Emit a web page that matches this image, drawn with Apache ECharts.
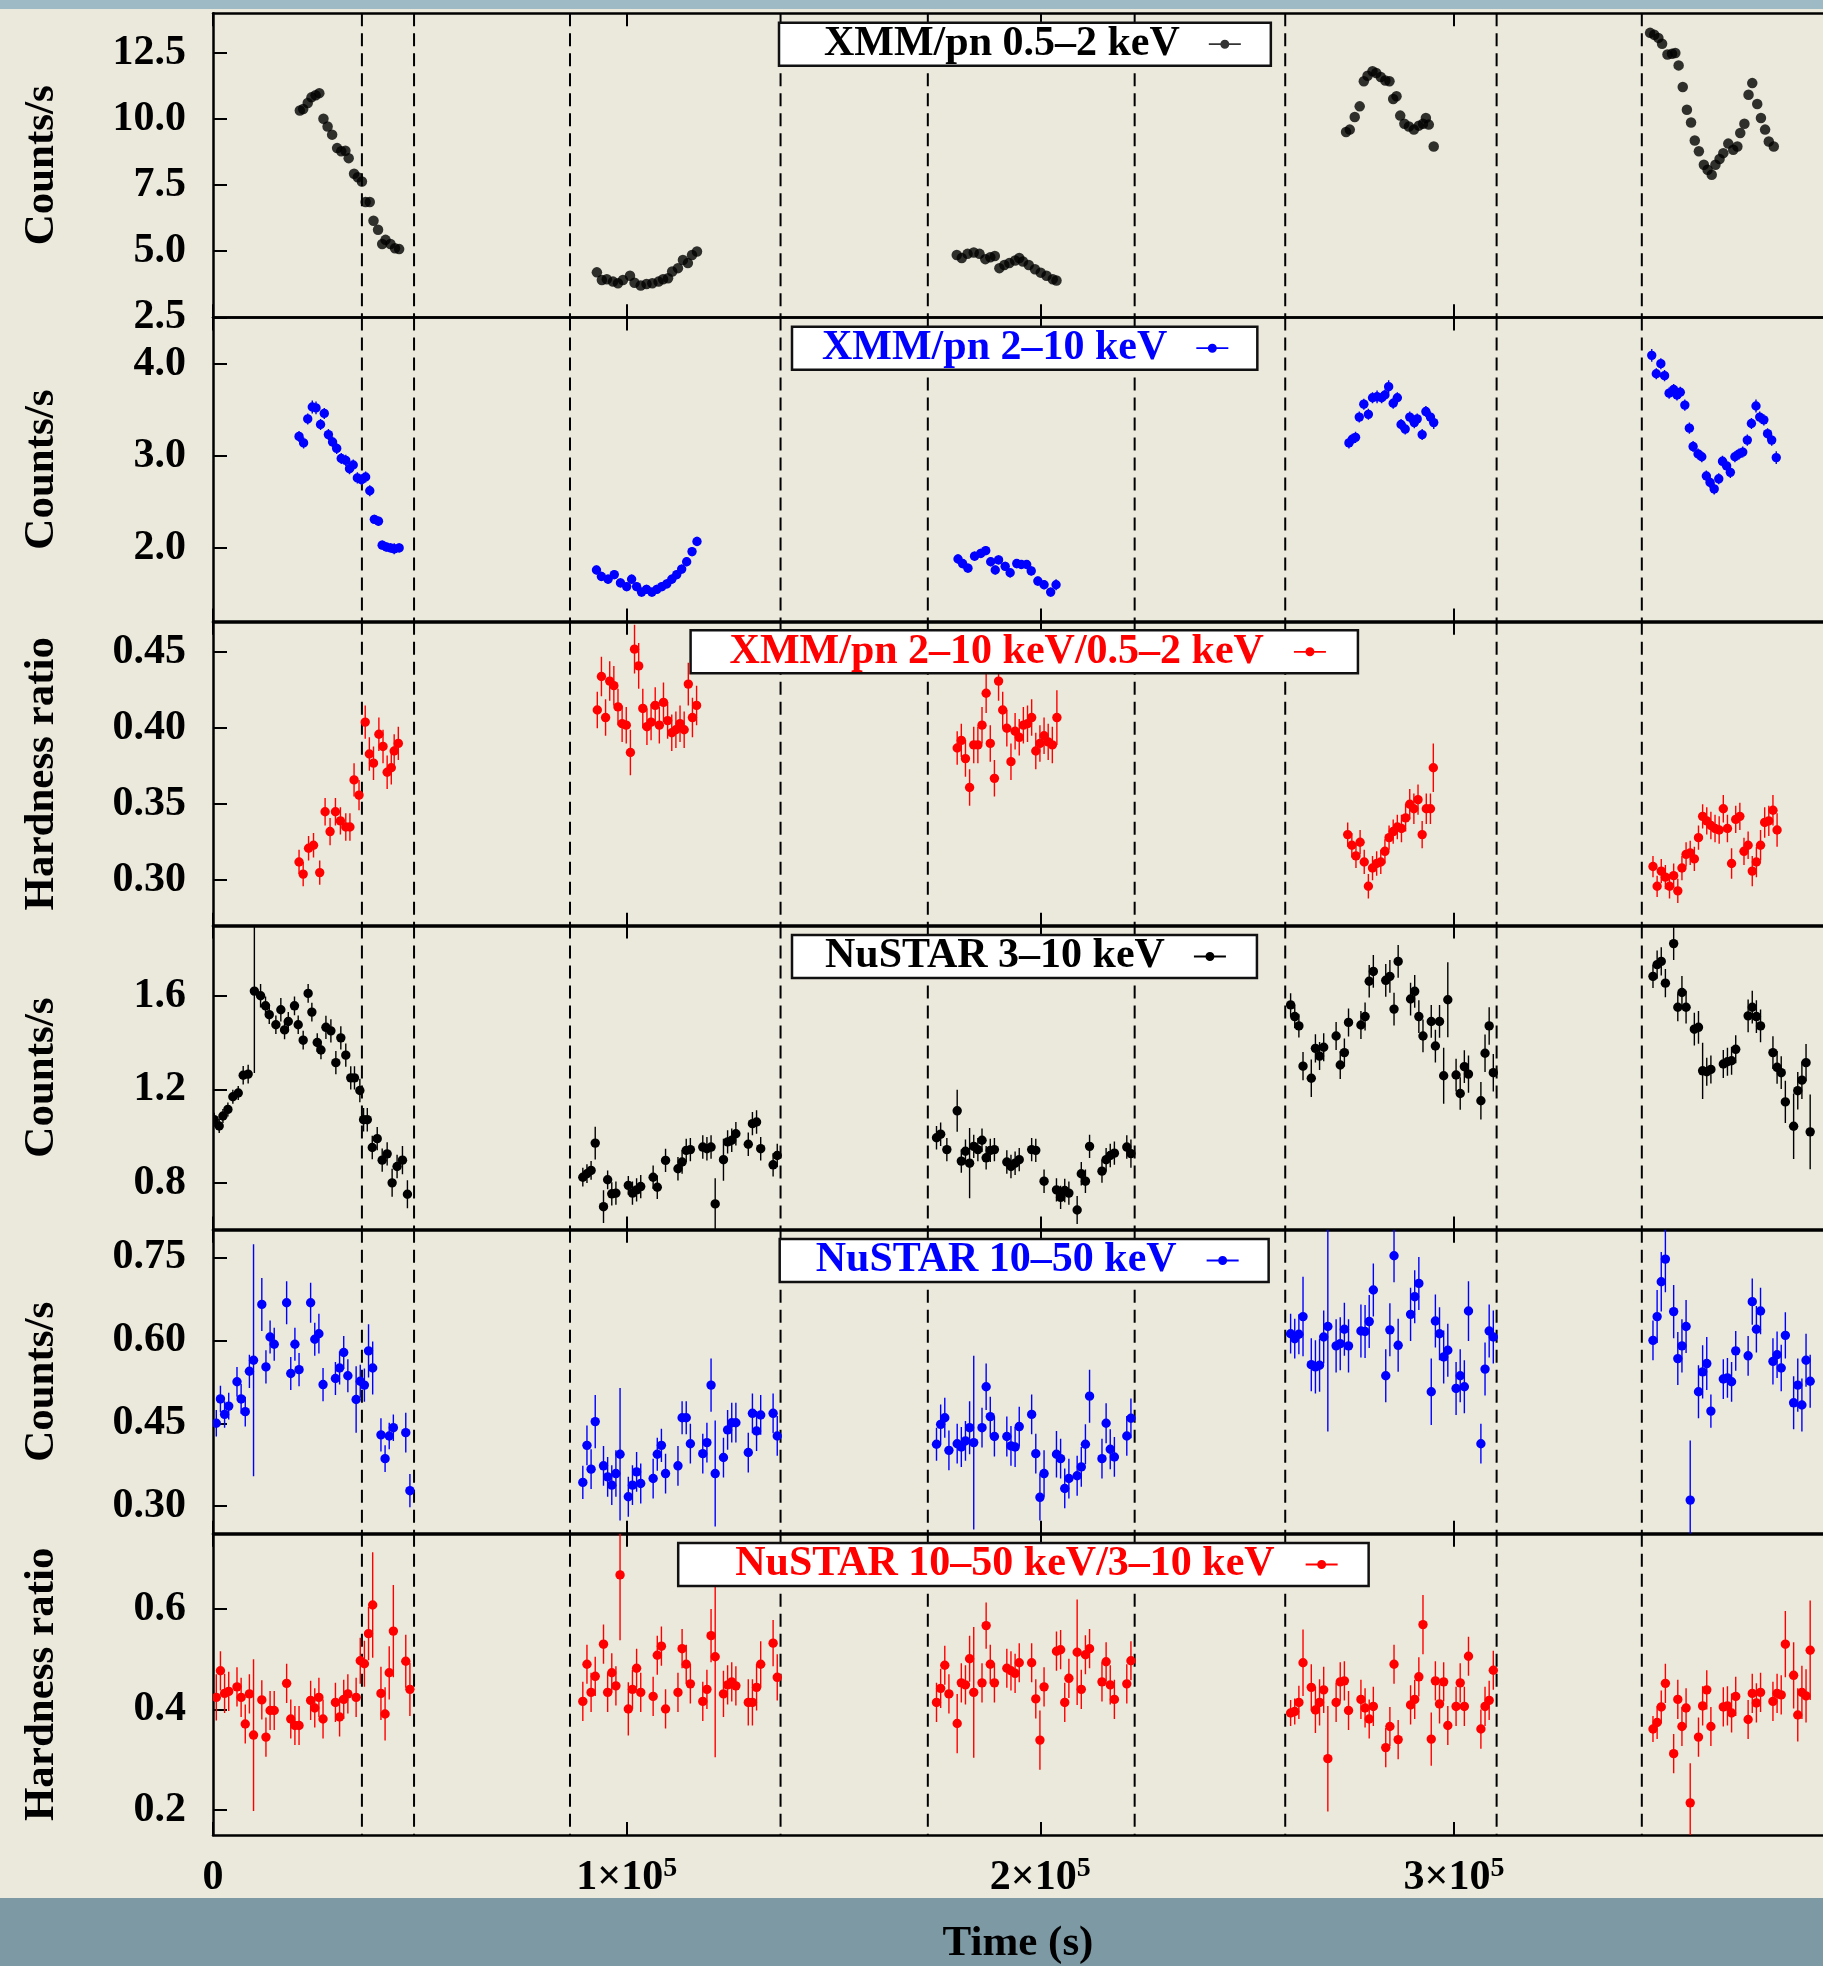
<!DOCTYPE html>
<html>
<head>
<meta charset="utf-8">
<title>XMM/pn and NuSTAR light curves</title>
<script src="https://cdn.jsdelivr.net/npm/echarts@6/dist/echarts.min.js"></script>
<style>
  html, body { margin: 0; padding: 0; }
  #lc {
    width: 1823px;
    height: 1966px;
    background: linear-gradient(to bottom, #9dbac5 0px, #9dbac5 9px, #ebe9dc 9px, #ebe9dc 1898px, #7c99a4 1898px, #7c99a4 1966px);
  }
</style>
</head>
<body>
<div id="lc"></div>
<script>
// ---- data (time in s) ----
const timeTicks = [0, 100000, 200000, 300000];
const dashX = [36000, 48600, 86300, 137200, 172800, 222800, 259200, 310300, 345400];

// XMM/pn 0.5-2 keV (counts/s)
const xmmSoftT = [
  21000, 21800, 22900, 23800, 24800, 25700, 26700, 27700, 28800, 30000, 31000, 32000, 32800, 34100, 35000, 36000, 36900, 37900, 38800, 39900, 40900, 41700, 42900, 44000, 45000,
  92800, 94000, 95200, 96700, 97900, 99100, 100800, 101900, 103400, 104800, 106200, 107700, 108800, 110000, 111000, 112400, 113600, 114800, 115800, 117000,
  179800, 181000, 182400, 183900, 185300, 186700, 187900, 189000, 190100, 191300, 192500, 193900, 194900, 195800, 197200, 198700, 200100, 201500, 203000, 203900,
  273900, 274800, 276000, 277200, 278200, 279100, 280300, 281200, 282300, 283400, 284400, 285300, 286100, 287000, 288000, 289100, 290300, 291500, 292500, 293200, 293900, 295100,
  347400, 348400, 349400, 350300, 351600, 352700, 353500, 354300, 355300, 356300, 357300, 358200, 359200, 360400, 361300, 362300, 363200, 364200, 365100, 366300, 367500, 368500, 369200, 370200, 371200, 372100, 373300, 374200, 375200, 376100, 377300
];
const xmmSoftV = [
  10.32, 10.38, 10.61, 10.82, 10.90, 10.98, 10.01, 9.72, 9.41, 8.90, 8.78, 8.80, 8.52, 7.93, 7.80, 7.64, 6.86, 6.86, 6.15, 5.81, 5.27, 5.43, 5.27, 5.11, 5.08,
  4.20, 3.91, 3.94, 3.85, 3.79, 3.91, 4.07, 3.81, 3.70, 3.76, 3.79, 3.85, 3.94, 3.98, 4.23, 4.36, 4.67, 4.55, 4.86, 4.99,
  4.86, 4.74, 4.90, 4.95, 4.90, 4.70, 4.77, 4.82, 4.36, 4.48, 4.55, 4.65, 4.74, 4.61, 4.48, 4.32, 4.19, 4.07, 3.94, 3.89,
  9.51, 9.60, 10.08, 10.48, 11.43, 11.64, 11.81, 11.74, 11.59, 11.46, 11.43, 10.76, 10.86, 10.13, 9.82, 9.72, 9.60, 9.75, 9.82, 10.04, 9.79, 8.96,
  13.26, 13.19, 13.07, 12.85, 12.44, 12.47, 12.50, 12.03, 11.21, 10.35, 9.87, 9.19, 8.78, 8.27, 8.08, 7.89, 8.27, 8.49, 8.71, 9.07, 8.84, 8.96, 9.47, 9.82, 10.92, 11.36, 10.57, 10.04, 9.60, 9.15, 8.96
];
const xmmSoftTicks = [2.5, 5.0, 7.5, 10.0, 12.5];

// XMM/pn 2-10 keV (counts/s)
const xmmHardT = [
  20800, 21900, 22900, 24000, 24900, 26000, 26900, 27900, 28900, 29900, 31000, 32100, 33000, 33900, 34900, 35900, 36900, 37900, 39000, 40000, 40900, 41900, 42900, 43800, 45000,
  92700, 93900, 95500, 97000, 98500, 100000, 101200, 102400, 103600, 104800, 106100, 107300, 108500, 109700, 110900, 112100, 113300, 114500, 115800, 117000,
  180100, 181200, 182500, 184100, 185600, 186800, 188000, 189100, 189900, 191500, 192700, 194300, 195400, 196700, 197800, 199400, 200900, 202500, 203800,
  274600, 275400, 276200, 277100, 278200, 279300, 280300, 281400, 282500, 283300, 284200, 285300, 286300, 287200, 288200, 289300, 290400, 291100, 292300, 293200, 294300, 295100,
  347800, 348900, 350000, 350900, 352000, 353100, 353900, 354700, 355800, 356900, 357800, 359000, 359900, 361000, 361900, 362900, 364000, 364900, 365900, 366800, 367900, 368900, 369800, 370900, 371900, 373000, 373900, 374900, 375800, 376800, 377900
];
const xmmHardV = [
  3.21, 3.14, 3.40, 3.53, 3.52, 3.34, 3.46, 3.23, 3.15, 3.08, 2.97, 2.95, 2.86, 2.90, 2.76, 2.74, 2.77, 2.62, 2.31, 2.29, 2.03, 2.01, 2.00, 1.99, 2.00,
  1.76, 1.69, 1.66, 1.71, 1.62, 1.58, 1.66, 1.58, 1.52, 1.55, 1.52, 1.55, 1.58, 1.61, 1.66, 1.71, 1.77, 1.85, 1.96, 2.07,
  1.88, 1.83, 1.78, 1.91, 1.94, 1.97, 1.85, 1.76, 1.87, 1.80, 1.73, 1.83, 1.82, 1.82, 1.75, 1.64, 1.60, 1.52, 1.60,
  3.14, 3.18, 3.20, 3.42, 3.56, 3.45, 3.63, 3.64, 3.63, 3.66, 3.75, 3.57, 3.63, 3.34, 3.29, 3.42, 3.36, 3.40, 3.23, 3.48, 3.42, 3.36,
  4.09, 3.89, 4.00, 3.87, 3.68, 3.72, 3.66, 3.69, 3.55, 3.30, 3.10, 3.02, 2.99, 2.78, 2.71, 2.64, 2.75, 2.94, 2.89, 2.82, 2.99, 3.02, 3.04, 3.17, 3.35, 3.54, 3.42, 3.39, 3.24, 3.17, 2.98
];
const xmmHardE = [
  0.06, 0.06, 0.06, 0.07, 0.07, 0.06, 0.06, 0.06, 0.06, 0.06, 0.06, 0.06, 0.06, 0.06, 0.06, 0.06, 0.06, 0.06, 0.05, 0.05, 0.05, 0.05, 0.05, 0.06, 0.05,
  0.05, 0.05, 0.05, 0.05, 0.05, 0.05, 0.05, 0.05, 0.05, 0.05, 0.05, 0.05, 0.05, 0.05, 0.05, 0.05, 0.05, 0.05, 0.05, 0.05,
  0.05, 0.05, 0.05, 0.05, 0.05, 0.05, 0.05, 0.05, 0.05, 0.05, 0.05, 0.05, 0.05, 0.05, 0.05, 0.05, 0.05, 0.05, 0.06,
  0.06, 0.06, 0.06, 0.06, 0.06, 0.06, 0.06, 0.07, 0.06, 0.06, 0.07, 0.06, 0.06, 0.06, 0.06, 0.06, 0.06, 0.06, 0.06, 0.06, 0.06, 0.07,
  0.07, 0.06, 0.06, 0.06, 0.06, 0.06, 0.06, 0.06, 0.06, 0.06, 0.06, 0.06, 0.06, 0.06, 0.06, 0.06, 0.06, 0.06, 0.06, 0.06, 0.06, 0.06, 0.06, 0.06, 0.06, 0.07, 0.06, 0.06, 0.06, 0.06, 0.07
];
const xmmHardTicks = [2.0, 3.0, 4.0];

// XMM/pn hardness ratio 2-10 keV / 0.5-2 keV
const xmmRatioT = [
  20800, 21800, 23100, 24300, 25800, 27100, 28300, 29600, 30800, 32100, 33100, 34100, 35300, 36800, 37800, 38800, 40100, 41100, 42100, 43100, 43800, 44800,
  92900, 93900, 94900, 95900, 96900, 97900, 98900, 99900, 100900, 101900, 102900, 103900, 104900, 105900, 106900, 107900, 108900, 109900, 110900, 111900, 112900, 113900, 114900, 115900, 116900,
  179900, 180900, 181900, 182900, 183900, 184900, 185900, 186900, 187900, 188900, 189900, 190900, 191900, 192900, 193900, 194900, 195900, 196900, 197900, 198900, 199900, 200900, 201900, 202900, 204000,
  274300, 275300, 276300, 277300, 278300, 279300, 280300, 281300, 282300, 283300, 284300, 285300, 286300, 287300, 288300, 289300, 290300, 291300, 292300, 293300, 294300, 295000,
  348100, 349100, 350100, 351100, 352100, 353100, 354100, 355100, 356100, 357100, 358100, 359100, 360100, 361100, 362100, 363100, 364100, 365100, 366100, 367100, 368100, 369100, 370100, 371100, 372100, 373100, 374100, 375100, 376100, 377100, 378100
];
const xmmRatioV = [
  0.312, 0.304, 0.321, 0.323, 0.305, 0.345, 0.332, 0.345, 0.339, 0.335, 0.335, 0.366, 0.356, 0.404, 0.383, 0.377, 0.396, 0.388, 0.371, 0.374, 0.385, 0.390,
  0.412, 0.434, 0.407, 0.431, 0.428, 0.414, 0.403, 0.402, 0.384, 0.452, 0.441, 0.413, 0.401, 0.404, 0.415, 0.402, 0.417, 0.405, 0.397, 0.399, 0.403, 0.399, 0.429, 0.407, 0.415,
  0.387, 0.392, 0.380, 0.361, 0.389, 0.389, 0.402, 0.423, 0.390, 0.367, 0.431, 0.412, 0.400, 0.378, 0.398, 0.394, 0.402, 0.403, 0.407, 0.385, 0.390, 0.395, 0.391, 0.389, 0.407,
  0.330, 0.323, 0.316, 0.325, 0.312, 0.296, 0.308, 0.311, 0.312, 0.319, 0.328, 0.332, 0.335, 0.334, 0.341, 0.350, 0.347, 0.353, 0.330, 0.347, 0.347, 0.374,
  0.309, 0.296, 0.306, 0.302, 0.296, 0.303, 0.293, 0.308, 0.317, 0.318, 0.314, 0.328, 0.342, 0.339, 0.336, 0.334, 0.333, 0.347, 0.334, 0.311, 0.340, 0.342, 0.319, 0.323, 0.306, 0.312, 0.323, 0.338, 0.339, 0.346, 0.333
];
const xmmRatioE = [
  0.008, 0.008, 0.008, 0.008, 0.008, 0.009, 0.009, 0.009, 0.009, 0.009, 0.009, 0.011, 0.010, 0.011, 0.011, 0.011, 0.011, 0.011, 0.011, 0.011, 0.011, 0.011,
  0.012, 0.013, 0.012, 0.013, 0.013, 0.012, 0.012, 0.012, 0.015, 0.016, 0.015, 0.013, 0.012, 0.012, 0.012, 0.012, 0.013, 0.012, 0.012, 0.012, 0.012, 0.012, 0.014, 0.013, 0.013,
  0.011, 0.011, 0.012, 0.012, 0.012, 0.012, 0.012, 0.013, 0.012, 0.012, 0.013, 0.012, 0.012, 0.012, 0.012, 0.012, 0.012, 0.012, 0.012, 0.012, 0.012, 0.012, 0.012, 0.012, 0.018,
  0.008, 0.008, 0.008, 0.008, 0.008, 0.008, 0.008, 0.008, 0.008, 0.008, 0.008, 0.008, 0.008, 0.009, 0.009, 0.010, 0.010, 0.010, 0.009, 0.010, 0.010, 0.016,
  0.007, 0.007, 0.008, 0.008, 0.008, 0.008, 0.008, 0.008, 0.008, 0.008, 0.008, 0.008, 0.008, 0.009, 0.009, 0.009, 0.009, 0.009, 0.009, 0.010, 0.009, 0.009, 0.009, 0.009, 0.010, 0.010, 0.010, 0.010, 0.010, 0.010, 0.011
];
const xmmRatioTicks = [0.30, 0.35, 0.40, 0.45];

// NuSTAR 3-10 keV (counts/s)
const nuSoftT = [
  300, 1500, 2400, 3600, 4800, 6100, 7300, 8500, 10000, 11500, 12700, 13600, 15200, 16400, 17300, 18200, 19700, 20600, 21800, 23000, 23900, 25200, 26100, 27300, 28500, 29700, 30900, 32100, 33300, 34200, 35500, 36400, 37300, 38500, 39700, 40900, 42100, 43300, 44500, 45800, 47000,
  89400, 90400, 91400, 92400, 94400, 95400, 96400, 97400, 100400, 101400, 102400, 103400, 106400, 107400, 109400, 112400, 113400, 114400, 115400, 118400, 119400, 120400, 121400, 123400, 124400, 125400, 126400, 129400, 130400, 131400, 132400, 135400, 136400,
  174900, 175900, 177400, 179900, 180900, 181900, 182900, 183900, 184900, 185900, 186900, 187900, 188900, 191900, 192900, 193900, 194900, 197900, 198900, 200900, 203900, 204900, 205900, 206900, 208900, 209900, 210900, 211900, 214900, 215900, 216900, 217900, 220900, 221900,
  260500, 261500, 262500, 263500, 265500, 266500, 267500, 268500, 271500, 272500, 273500, 274500, 277500, 278500, 279500, 280500, 283500, 284500, 285500, 286500, 289500, 290500, 291500, 292500, 294500, 295500, 296500, 297500, 298500, 300500, 301500, 302500, 303500, 306500, 307500, 308500, 309500,
  348100, 349100, 350100, 351100, 353100, 354100, 355100, 356100, 358100, 359100, 360100, 361100, 362100, 365100, 366100, 367100, 368100, 371100, 372100, 373100, 374100, 377100, 378100, 379100, 380100, 382100, 383100, 384100, 385100, 386100
];
const nuSoftV = [
  1.07, 1.043, 1.086, 1.114, 1.168, 1.184, 1.26, 1.265, 1.62, 1.60, 1.557, 1.519, 1.476, 1.54, 1.454, 1.49, 1.557, 1.476, 1.41, 1.61, 1.53, 1.40, 1.368, 1.465, 1.45, 1.314, 1.42, 1.346, 1.249, 1.249, 1.195, 1.07, 1.07, 0.951, 0.989, 0.897, 0.924, 0.80, 0.87, 0.897, 0.751,
  0.824, 0.839, 0.853, 0.970, 0.698, 0.813, 0.753, 0.756, 0.789, 0.756, 0.770, 0.784, 0.824, 0.781, 0.896, 0.860, 0.889, 0.939, 0.942, 0.953, 0.946, 0.953, 0.710, 0.899, 0.975, 0.982, 1.010, 0.965, 1.053, 1.060, 0.946, 0.877, 0.917,
  0.993, 1.008, 0.942, 1.108, 0.893, 0.935, 0.884, 0.956, 0.942, 0.982, 0.907, 0.939, 0.942, 0.889, 0.870, 0.884, 0.899, 0.942, 0.939, 0.807, 0.770, 0.738, 0.767, 0.756, 0.684, 0.839, 0.807, 0.956, 0.850, 0.899, 0.917, 0.927, 0.953, 0.925,
  1.561, 1.511, 1.471, 1.299, 1.247, 1.375, 1.342, 1.380, 1.428, 1.304, 1.357, 1.486, 1.475, 1.511, 1.662, 1.704, 1.666, 1.683, 1.543, 1.747, 1.586, 1.619, 1.511, 1.428, 1.490, 1.385, 1.490, 1.258, 1.583, 1.261, 1.182, 1.297, 1.265, 1.151, 1.354, 1.471, 1.271,
  1.683, 1.733, 1.747, 1.654, 1.823, 1.551, 1.614, 1.551, 1.457, 1.465, 1.279, 1.275, 1.285, 1.308, 1.318, 1.322, 1.371, 1.514, 1.551, 1.511, 1.471, 1.357, 1.294, 1.271, 1.146, 1.042, 1.194, 1.239, 1.314, 1.018
];
const nuSoftE = [
  0.03, 0.03, 0.03, 0.03, 0.03, 0.03, 0.04, 0.04, 0.35, 0.05, 0.04, 0.04, 0.04, 0.05, 0.04, 0.04, 0.04, 0.04, 0.04, 0.04, 0.04, 0.04, 0.04, 0.05, 0.05, 0.05, 0.05, 0.05, 0.05, 0.05, 0.05, 0.05, 0.05, 0.05, 0.05, 0.05, 0.05, 0.06, 0.05, 0.06, 0.06,
  0.04, 0.04, 0.04, 0.07, 0.07, 0.04, 0.05, 0.05, 0.04, 0.05, 0.05, 0.05, 0.05, 0.05, 0.05, 0.05, 0.05, 0.05, 0.05, 0.05, 0.05, 0.05, 0.11, 0.09, 0.05, 0.05, 0.05, 0.05, 0.05, 0.05, 0.05, 0.05, 0.05,
  0.05, 0.05, 0.05, 0.09, 0.05, 0.05, 0.15, 0.05, 0.05, 0.05, 0.05, 0.05, 0.05, 0.05, 0.05, 0.05, 0.05, 0.05, 0.05, 0.05, 0.05, 0.05, 0.05, 0.05, 0.06, 0.05, 0.05, 0.05, 0.05, 0.05, 0.05, 0.05, 0.05, 0.06,
  0.05, 0.05, 0.05, 0.06, 0.08, 0.06, 0.06, 0.06, 0.06, 0.06, 0.06, 0.06, 0.06, 0.06, 0.07, 0.07, 0.07, 0.07, 0.07, 0.07, 0.07, 0.07, 0.07, 0.07, 0.07, 0.07, 0.07, 0.12, 0.16, 0.07, 0.07, 0.07, 0.08, 0.08, 0.08, 0.08, 0.08,
  0.05, 0.06, 0.06, 0.06, 0.07, 0.06, 0.07, 0.07, 0.07, 0.07, 0.12, 0.06, 0.06, 0.06, 0.06, 0.06, 0.06, 0.07, 0.07, 0.07, 0.07, 0.07, 0.07, 0.07, 0.09, 0.14, 0.08, 0.08, 0.08, 0.16
];
const nuSoftTicks = [0.8, 1.2, 1.6];

// NuSTAR 10-50 keV (counts/s)
const nuHardT = [
  800, 1800, 2800, 3800, 5800, 6800, 7800, 8800, 9800, 11800, 12800, 13800, 14800, 17800, 18800, 19800, 20800, 23600, 24600, 25600, 26600, 29600, 30600, 31600, 32600, 34600, 35600, 36600, 37600, 38600, 40600, 41600, 42600, 43600, 46600, 47600,
  89400, 90400, 91400, 92400, 94400, 95400, 96400, 97400, 98400, 100400, 101400, 102400, 103400, 106400, 107400, 108400, 109400, 112400, 113400, 114400, 115400, 118400, 119400, 120400, 121400, 123400, 124400, 125400, 126400, 129400, 130400, 131400, 132400, 135400, 136400,
  174900, 175900, 176900, 177900, 179900, 180900, 181900, 182900, 183900, 185900, 186900, 187900, 188900, 191900, 192900, 193900, 194900, 197900, 198900, 199900, 200900, 203900, 204900, 205900, 206900, 208900, 209900, 210900, 211900, 214900, 215900, 216900, 217900, 220900, 221900,
  260500, 261500, 262500, 263500, 265500, 266500, 267500, 268500, 269500, 271500, 272500, 273500, 274500, 277500, 278500, 279500, 280500, 283500, 284500, 285500, 286500, 289500, 290500, 291500, 294500, 295500, 296500, 297500, 298500, 300500, 301500, 302500, 303500, 306500, 307500, 308500, 309500,
  348100, 349100, 350100, 351100, 353100, 354100, 355100, 356100, 357100, 359100, 360100, 361100, 362100, 365100, 366100, 367100, 368100, 371100, 372100, 373100, 374100, 377100, 378100, 379100, 380100, 382100, 383100, 384100, 385100, 386100
];
const nuHardV = [
  0.450, 0.494, 0.466, 0.481, 0.525, 0.494, 0.471, 0.544, 0.564, 0.665, 0.552, 0.606, 0.593, 0.668, 0.540, 0.593, 0.547, 0.668, 0.602, 0.612, 0.520, 0.531, 0.550, 0.578, 0.536, 0.493, 0.526, 0.519, 0.581, 0.550, 0.429, 0.386, 0.427, 0.442, 0.433, 0.328,
  0.343, 0.410, 0.367, 0.453, 0.373, 0.353, 0.338, 0.359, 0.394, 0.317, 0.338, 0.362, 0.341, 0.350, 0.394, 0.410, 0.359, 0.373, 0.460, 0.460, 0.413, 0.395, 0.415, 0.519, 0.359, 0.388, 0.438, 0.451, 0.451, 0.397, 0.468, 0.436, 0.465, 0.468, 0.427,
  0.412, 0.448, 0.460, 0.401, 0.413, 0.407, 0.418, 0.442, 0.415, 0.442, 0.516, 0.462, 0.426, 0.426, 0.409, 0.407, 0.444, 0.466, 0.395, 0.316, 0.359, 0.394, 0.386, 0.332, 0.350, 0.355, 0.371, 0.412, 0.499, 0.386, 0.450, 0.403, 0.389, 0.427, 0.459,
  0.612, 0.603, 0.611, 0.643, 0.556, 0.552, 0.555, 0.606, 0.625, 0.590, 0.594, 0.620, 0.590, 0.617, 0.616, 0.634, 0.691, 0.536, 0.619, 0.753, 0.591, 0.647, 0.679, 0.703, 0.507, 0.635, 0.612, 0.570, 0.582, 0.513, 0.536, 0.516, 0.653, 0.413, 0.548, 0.617, 0.606,
  0.600, 0.643, 0.706, 0.747, 0.652, 0.567, 0.590, 0.625, 0.311, 0.507, 0.543, 0.558, 0.472, 0.530, 0.532, 0.525, 0.581, 0.572, 0.670, 0.620, 0.653, 0.562, 0.574, 0.550, 0.609, 0.487, 0.519, 0.483, 0.564, 0.526
];
const nuHardE = [
  0.024, 0.024, 0.024, 0.024, 0.027, 0.027, 0.027, 0.030, 0.21, 0.048, 0.030, 0.030, 0.030, 0.039, 0.030, 0.030, 0.030, 0.036, 0.030, 0.036, 0.030, 0.030, 0.030, 0.030, 0.030, 0.06, 0.030, 0.030, 0.048, 0.048, 0.030, 0.024, 0.024, 0.024, 0.036, 0.030,
  0.030, 0.036, 0.036, 0.048, 0.036, 0.036, 0.036, 0.042, 0.12, 0.036, 0.036, 0.036, 0.036, 0.036, 0.030, 0.030, 0.036, 0.036, 0.030, 0.030, 0.036, 0.036, 0.036, 0.048, 0.096, 0.036, 0.036, 0.036, 0.036, 0.036, 0.036, 0.036, 0.036, 0.036, 0.036,
  0.030, 0.036, 0.036, 0.036, 0.036, 0.036, 0.036, 0.048, 0.157, 0.036, 0.042, 0.036, 0.036, 0.036, 0.036, 0.036, 0.036, 0.036, 0.036, 0.042, 0.042, 0.042, 0.036, 0.036, 0.036, 0.036, 0.036, 0.036, 0.048, 0.036, 0.036, 0.036, 0.036, 0.036, 0.036,
  0.036, 0.036, 0.036, 0.072, 0.048, 0.048, 0.048, 0.048, 0.19, 0.048, 0.048, 0.048, 0.048, 0.048, 0.048, 0.048, 0.048, 0.048, 0.048, 0.048, 0.048, 0.048, 0.048, 0.048, 0.06, 0.048, 0.048, 0.048, 0.048, 0.048, 0.048, 0.048, 0.054, 0.036, 0.048, 0.048, 0.048,
  0.036, 0.048, 0.054, 0.06, 0.048, 0.048, 0.048, 0.048, 0.108, 0.048, 0.048, 0.048, 0.030, 0.036, 0.036, 0.036, 0.036, 0.036, 0.042, 0.042, 0.042, 0.042, 0.042, 0.042, 0.042, 0.048, 0.048, 0.048, 0.048, 0.048
];
const nuHardTicks = [0.30, 0.45, 0.60, 0.75];

// NuSTAR hardness ratio 10-50 keV / 3-10 keV
const nuRatioT = [
  800, 1800, 2800, 3800, 5800, 6800, 7800, 8800, 9800, 11800, 12800, 13800, 14800, 17800, 18800, 19800, 20800, 23600, 24600, 25600, 26600, 29600, 30600, 31600, 32600, 34600, 35600, 36600, 37600, 38600, 40600, 41600, 42600, 43600, 46600, 47600,
  89400, 90400, 91400, 92400, 94400, 95400, 96400, 97400, 98400, 100400, 101400, 102400, 103400, 106400, 107400, 108400, 109400, 112400, 113400, 114400, 115400, 118400, 119400, 120400, 121400, 123400, 124400, 125400, 126400, 129400, 130400, 131400, 132400, 135400, 136400,
  174900, 175900, 176900, 177900, 179900, 180900, 181900, 182900, 183900, 185900, 186900, 187900, 188900, 191900, 192900, 193900, 194900, 197900, 198900, 199900, 200900, 203900, 204900, 205900, 206900, 208900, 209900, 210900, 211900, 214900, 215900, 216900, 217900, 220900, 221900,
  260500, 261500, 262500, 263500, 265500, 266500, 267500, 268500, 269500, 271500, 272500, 273500, 274500, 277500, 278500, 279500, 280500, 283500, 284500, 285500, 286500, 289500, 290500, 291500, 292500, 294500, 295500, 296500, 297500, 298500, 300500, 301500, 302500, 303500, 306500, 307500, 308500, 309500,
  348100, 349100, 350100, 351100, 353100, 354100, 355100, 356100, 357100, 359100, 360100, 361100, 362100, 365100, 366100, 367100, 368100, 371100, 372100, 373100, 374100, 377100, 378100, 379100, 380100, 382100, 383100, 384100, 385100, 386100
];
const nuRatioV = [
  0.424, 0.477, 0.432, 0.436, 0.445, 0.424, 0.371, 0.431, 0.349, 0.419, 0.345, 0.398, 0.398, 0.452, 0.381, 0.368, 0.368, 0.418, 0.403, 0.424, 0.381, 0.414, 0.385, 0.420, 0.431, 0.424, 0.497, 0.491, 0.551, 0.608, 0.432, 0.391, 0.473, 0.556, 0.496, 0.440,
  0.416, 0.490, 0.434, 0.466, 0.530, 0.434, 0.473, 0.447, 0.668, 0.401, 0.440, 0.482, 0.434, 0.426, 0.508, 0.526, 0.401, 0.434, 0.521, 0.490, 0.451, 0.416, 0.440, 0.547, 0.505, 0.431, 0.449, 0.455, 0.447, 0.414, 0.414, 0.444, 0.490, 0.532, 0.464,
  0.414, 0.442, 0.488, 0.431, 0.372, 0.453, 0.449, 0.501, 0.434, 0.453, 0.567, 0.490, 0.453, 0.482, 0.477, 0.472, 0.493, 0.493, 0.421, 0.339, 0.445, 0.516, 0.519, 0.414, 0.462, 0.514, 0.440, 0.509, 0.521, 0.455, 0.495, 0.449, 0.420, 0.451, 0.497,
  0.393, 0.396, 0.414, 0.493, 0.444, 0.399, 0.414, 0.439, 0.302, 0.414, 0.455, 0.457, 0.398, 0.420, 0.403, 0.381, 0.406, 0.324, 0.366, 0.490, 0.340, 0.409, 0.420, 0.465, 0.569, 0.341, 0.457, 0.411, 0.455, 0.368, 0.406, 0.453, 0.406, 0.506, 0.361, 0.406, 0.418, 0.478,
  0.361, 0.374, 0.405, 0.452, 0.312, 0.420, 0.366, 0.403, 0.214, 0.345, 0.407, 0.439, 0.366, 0.405, 0.407, 0.393, 0.426, 0.380, 0.432, 0.413, 0.434, 0.416, 0.432, 0.429, 0.530, 0.468, 0.389, 0.434, 0.427, 0.518
];
const nuRatioE = [
  0.046, 0.039, 0.039, 0.039, 0.039, 0.039, 0.039, 0.039, 0.151, 0.039, 0.039, 0.039, 0.039, 0.039, 0.039, 0.039, 0.039, 0.039, 0.039, 0.039, 0.039, 0.039, 0.039, 0.039, 0.039, 0.039, 0.046, 0.046, 0.053, 0.105, 0.053, 0.053, 0.053, 0.092, 0.053, 0.053,
  0.039, 0.039, 0.039, 0.039, 0.039, 0.039, 0.039, 0.039, 0.13, 0.053, 0.039, 0.039, 0.039, 0.039, 0.039, 0.039, 0.039, 0.039, 0.039, 0.039, 0.039, 0.039, 0.039, 0.053, 0.2, 0.046, 0.039, 0.039, 0.039, 0.046, 0.046, 0.046, 0.046, 0.046, 0.046,
  0.039, 0.039, 0.039, 0.039, 0.059, 0.039, 0.039, 0.046, 0.13, 0.039, 0.046, 0.039, 0.039, 0.039, 0.039, 0.039, 0.039, 0.039, 0.039, 0.059, 0.039, 0.039, 0.039, 0.039, 0.039, 0.105, 0.039, 0.039, 0.039, 0.039, 0.039, 0.039, 0.039, 0.039, 0.039,
  0.026, 0.026, 0.033, 0.066, 0.046, 0.046, 0.046, 0.046, 0.105, 0.039, 0.039, 0.039, 0.039, 0.039, 0.039, 0.039, 0.039, 0.039, 0.039, 0.039, 0.039, 0.039, 0.039, 0.039, 0.059, 0.053, 0.039, 0.039, 0.039, 0.039, 0.039, 0.039, 0.039, 0.039, 0.039, 0.039, 0.039, 0.039,
  0.026, 0.033, 0.033, 0.039, 0.039, 0.039, 0.039, 0.039, 0.079, 0.039, 0.039, 0.039, 0.039, 0.039, 0.039, 0.039, 0.039, 0.039, 0.039, 0.039, 0.039, 0.039, 0.039, 0.039, 0.066, 0.066, 0.053, 0.053, 0.053, 0.099
];
const nuRatioTicks = [0.2, 0.4, 0.6];

// ---- layout / styling ----
const FONT = "'Liberation Serif', 'Times New Roman', 'DejaVu Serif', serif";
const FS = 42;
const X_MAX = 389200;
const GRID_LEFT = 213;
const gridTop = [13.3, 317.6, 621.8, 925.6, 1229.8, 1533.7];
const GRID_H = 304;
const ICON = 'path://M0,3.6H32V5.4H0Z M16,0A4.5,4.5,0,1,1,16,9A4.5,4.5,0,1,1,16,0Z';

// legend box: [left, top, padLeft, padRight, textToIconGap]
const panels = [
  { name: 'XMM/pn 0.5–2 keV', color: '#000000', t: xmmSoftT, v: xmmSoftV, e: null,
    min: 2.5, max: 14.0, ticks: xmmSoftTicks, dec: 1, yName: 'Counts/s', lg: [779, 22.7, 45, 30, 29] },
  { name: 'XMM/pn 2–10 keV', color: '#0000ff', t: xmmHardT, v: xmmHardV, e: xmmHardE,
    min: 1.2, max: 4.5, ticks: xmmHardTicks, dec: 1, yName: 'Counts/s', lg: [792, 326.7, 30, 29, 29] },
  { name: 'XMM/pn 2–10 keV/0.5–2 keV', color: '#ff0000', t: xmmRatioT, v: xmmRatioV, e: xmmRatioE,
    min: 0.27, max: 0.47, ticks: xmmRatioTicks, dec: 2, yName: 'Hardness ratio', lg: [690.6, 630.3, 39, 32, 30] },
  { name: 'NuSTAR 3–10 keV', color: '#000000', t: nuSoftT, v: nuSoftV, e: nuSoftE,
    min: 0.6, max: 1.9, ticks: nuSoftTicks, dec: 1, yName: 'Counts/s', lg: [792, 935, 33, 31, 29] },
  { name: 'NuSTAR 10–50 keV', color: '#0000ff', t: nuHardT, v: nuHardV, e: nuHardE,
    min: 0.25, max: 0.80, ticks: nuHardTicks, dec: 2, yName: 'Counts/s', lg: [779.7, 1239, 36, 30, 30] },
  { name: 'NuSTAR 10–50 keV/3–10 keV', color: '#ff0000', t: nuRatioT, v: nuRatioV, e: nuRatioE,
    min: 0.15, max: 0.75, ticks: nuRatioTicks, dec: 1, yName: 'Hardness ratio', lg: [678.2, 1543, 57, 31, 31] }
];

const boldText = { fontFamily: FONT, fontWeight: 'bold', fontSize: FS, color: '#000' };

function errorBars(color) {
  return function (params, api) {
    const x = api.value(0), y = api.value(1), e = api.value(2);
    const c = api.coord([x, y]);
    const lo = api.coord([x, y - e]);
    const hi = api.coord([x, y + e]);
    return {
      type: 'group',
      children: [
        { type: 'line', shape: { x1: c[0], y1: lo[1], x2: c[0], y2: hi[1] },
          style: { stroke: color, lineWidth: 1.4 } },
        { type: 'circle', shape: { cx: c[0], cy: c[1], r: 4.7 }, style: { fill: color } }
      ]
    };
  };
}

function dashLine(params, api) {
  const cs = params.coordSys;
  const x = api.coord([api.value(0), api.value(1)])[0];
  return {
    type: 'line',
    shape: { x1: x, y1: cs.y, x2: x, y2: cs.y + cs.height },
    style: { stroke: '#000', lineWidth: 2, lineDash: [13, 7] }
  };
}

const grid = [], xAxis = [], yAxis = [], series = [], legend = [];

panels.forEach((p, i) => {
  grid.push({ left: GRID_LEFT, right: 0, top: gridTop[i], height: GRID_H });

  const last = i === panels.length - 1;
  xAxis.push({
    gridIndex: i, type: 'value', position: 'bottom', min: 0, max: X_MAX,
    axisLine: { show: true, onZero: false, lineStyle: { color: '#000', width: 2.5 } },
    axisTick: { show: true, inside: true, length: 13, lineStyle: { color: '#000', width: 2 }, customValues: timeTicks },
    axisLabel: {
      show: last, customValues: timeTicks, margin: 20,
      formatter: v => v === 0 ? '{b|0}' : '{b|' + (v / 100000) + '×10}{s|5}',
      rich: {
        b: { fontFamily: FONT, fontWeight: 'bold', fontSize: FS, color: '#000', lineHeight: 46 },
        s: { fontFamily: FONT, fontWeight: 'bold', fontSize: 28, color: '#000', lineHeight: 4, verticalAlign: 'top' }
      }
    },
    splitLine: { show: false },
    name: last ? 'Time (s)' : '', nameLocation: 'middle', nameGap: 87,
    nameTextStyle: Object.assign({}, boldText, { fontSize: 43 })
  });
  xAxis.push({
    gridIndex: i, type: 'value', position: 'top', min: 0, max: X_MAX,
    axisLine: { show: true, onZero: false, lineStyle: { color: '#000', width: 2.5 } },
    axisTick: { show: true, inside: true, length: 13, lineStyle: { color: '#000', width: 2 }, customValues: timeTicks },
    axisLabel: { show: false },
    splitLine: { show: false }
  });

  yAxis.push({
    gridIndex: i, type: 'value', min: p.min, max: p.max,
    name: p.yName, nameLocation: 'middle', nameGap: 150,
    nameTextStyle: Object.assign({}, boldText, { fontSize: 43 }),
    axisLine: { show: true, onZero: false, lineStyle: { color: '#000', width: 2.5 } },
    axisTick: { show: true, inside: true, length: 14, lineStyle: { color: '#000', width: 2 }, customValues: p.ticks },
    axisLabel: Object.assign({ customValues: p.ticks, margin: 27, formatter: v => v.toFixed(p.dec) }, boldText),
    splitLine: { show: false }
  });

  series.push({
    type: 'custom', name: 'dash' + i, xAxisIndex: 2 * i, yAxisIndex: i,
    data: dashX.map(x => [x, p.min]), renderItem: dashLine, silent: true, z: 1
  });

  if (p.e) {
    series.push({
      type: 'custom', name: p.name, xAxisIndex: 2 * i, yAxisIndex: i,
      itemStyle: { color: p.color }, clip: true, z: 3,
      data: p.t.map((x, k) => [x, p.v[k], p.e[k]]),
      renderItem: errorBars(p.color)
    });
  } else {
    series.push({
      type: 'scatter', name: p.name, xAxisIndex: 2 * i, yAxisIndex: i,
      symbol: 'circle', symbolSize: 10.5, itemStyle: { color: p.color }, z: 3,
      data: p.t.map((x, k) => [x, p.v[k]])
    });
  }

  const lg = p.lg;
  legend.push({
    data: [{ name: p.name, icon: ICON, itemStyle: { color: p.color } }],
    left: lg[0], top: lg[1], orient: 'horizontal', align: 'right',
    itemWidth: 32, itemHeight: 9, selectedMode: false,
    padding: [0.5, lg[3], 0.5, lg[2]],
    backgroundColor: '#ffffff', borderColor: '#111', borderWidth: 2.5,
    itemStyle: { borderWidth: 0 },
    textStyle: { fontFamily: FONT, fontWeight: 'bold', fontSize: FS, lineHeight: 42,
                 color: p.color, padding: [0, lg[4] - 5, 0, 0] }
  });
});

const chart = echarts.init(document.getElementById('lc'), null, { renderer: 'canvas' });
chart.setOption({
  backgroundColor: 'transparent',
  animation: false,
  grid: grid,
  xAxis: xAxis,
  yAxis: yAxis,
  legend: legend,
  series: series
});
</script>
</body>
</html>
